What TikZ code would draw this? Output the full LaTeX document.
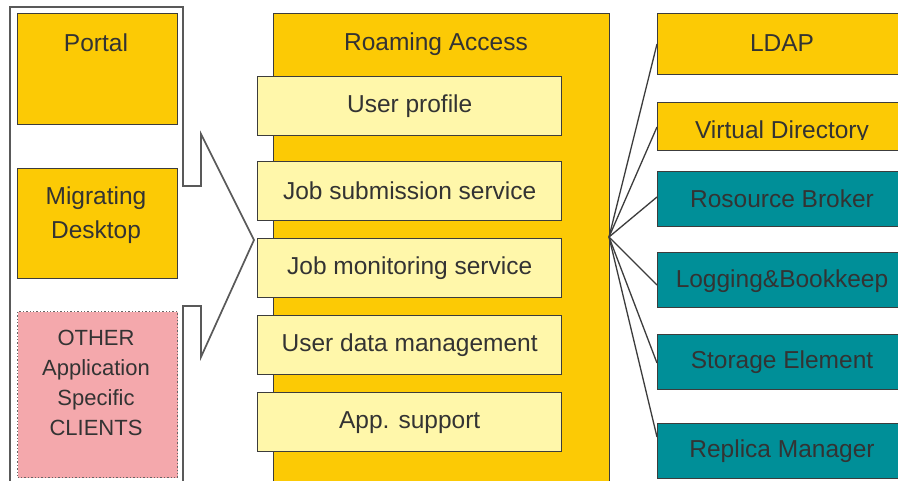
\documentclass[tikz,border=0pt]{standalone}
\usepackage{fontspec}
\setmainfont{Liberation Sans}
\definecolor{gold}{HTML}{FCCA05}
\definecolor{pale}{HTML}{FFF7AA}
\definecolor{teal2}{HTML}{008F98}
\definecolor{pinkc}{HTML}{F4A8AC}
\definecolor{txt}{HTML}{333333}
\definecolor{edge}{HTML}{3C3C3C}
\tikzset{
  bx/.style={draw=edge, line width=1.4pt, anchor=north west, inner sep=0pt},
  gbox/.style={bx, fill=gold},
  pbox/.style={bx, fill=pale},
  tbox/.style={bx, fill=teal2},
  lbl/.style={text=txt, font=\fontsize{24.5}{34}\selectfont, align=center, inner sep=0pt},
  conn/.style={draw=edge, line width=1.3pt},
}
\begin{document}
\begin{tikzpicture}[x=1pt,y=-1pt]
\useasboundingbox (0,0) rectangle (898,481);
\clip (0,0) rectangle (898,481);
\fill[white] (0,0) rectangle (898,481);
% left callout frame
\draw[draw=gray!70!black, line width=1.7pt] (10,490) -- (10,7) -- (183,7) -- (183,186) -- (201,186) -- (201,134) -- (254,240) -- (201,357) -- (201,306) -- (183,306) -- (183,490);
% left boxes
\node[gbox, minimum width=160pt, minimum height=111pt] (portal) at (17,13) {};
\node[lbl] (portalt) at (96,43) {Portal};
\node[gbox, minimum width=160pt, minimum height=110pt] (md) at (17,168) {};
\node[lbl] at (96,215) {Migrating\\Desktop};
\node[bx, fill=pinkc, draw=gray!80!black, dotted, line width=1.2pt, minimum width=160pt, minimum height=166pt] (other) at (17,311) {};
\node[lbl, font=\fontsize{22}{30}\selectfont] at (96,383) {OTHER\\Application\\Specific\\CLIENTS};
% roaming access
\node[gbox, minimum width=336pt, minimum height=480pt] (ra) at (273,13) {};
\node[lbl] at (436,44) {Roaming Access};
\node[pbox, minimum width=304pt, minimum height=59pt] (up) at (257,76) {};
\node[lbl] at (up.center) {User profile};
\node[pbox, minimum width=304pt, minimum height=59pt] (js) at (257,161) {};
\node[lbl] at (js.center) {Job submission service};
\node[pbox, minimum width=304pt, minimum height=59pt] (jm) at (257,238) {};
\node[lbl] at (jm.center) {Job monitoring service};
\node[pbox, minimum width=304pt, minimum height=59pt] (ud) at (257,315) {};
\node[lbl] at (ud.center) {User data management};
\node[pbox, minimum width=304pt, minimum height=59pt] (as) at (257,392) {};
\node[lbl] at (as.center) {App. support};
% right boxes
\node[gbox, minimum width=260pt, minimum height=61pt] (ldap) at (657,13) {};
\node[lbl] at (782,43) {LDAP};
\node[gbox, minimum width=260pt, minimum height=48pt] (vd) at (657,102) {};
\begin{scope}
\clip (657,102) rectangle (920,140);
\node[lbl, anchor=base] at (782,139) {Virtual Directory};
\end{scope}
\node[tbox, minimum width=260pt, minimum height=55pt] (rb) at (657,171) {};
\node[lbl] at (782,199) {Rosource Broker};
\node[tbox, minimum width=260pt, minimum height=55pt] (lb) at (657,252) {};
\node[lbl] at (782,281) {Logging\&Bookkeep};
\node[tbox, minimum width=260pt, minimum height=55pt] (se) at (657,334) {};
\node[lbl] at (782,362) {Storage Element};
\node[tbox, minimum width=260pt, minimum height=55pt] (rm) at (657,423) {};
\node[lbl] at (782,451) {Replica Manager};
% connectors
\coordinate (hub) at (609,237);
\draw[conn] (hub) -- (ldap.west |- 0,44);
\draw[conn] (hub) -- (vd.west |- 0,127);
\draw[conn] (hub) -- (rb.west |- 0,197);
\draw[conn] (hub) -- (lb.west |- 0,285);
\draw[conn] (hub) -- (se.west |- 0,363);
\draw[conn] (hub) -- (rm.west |- 0,437);
\end{tikzpicture}
\end{document}
